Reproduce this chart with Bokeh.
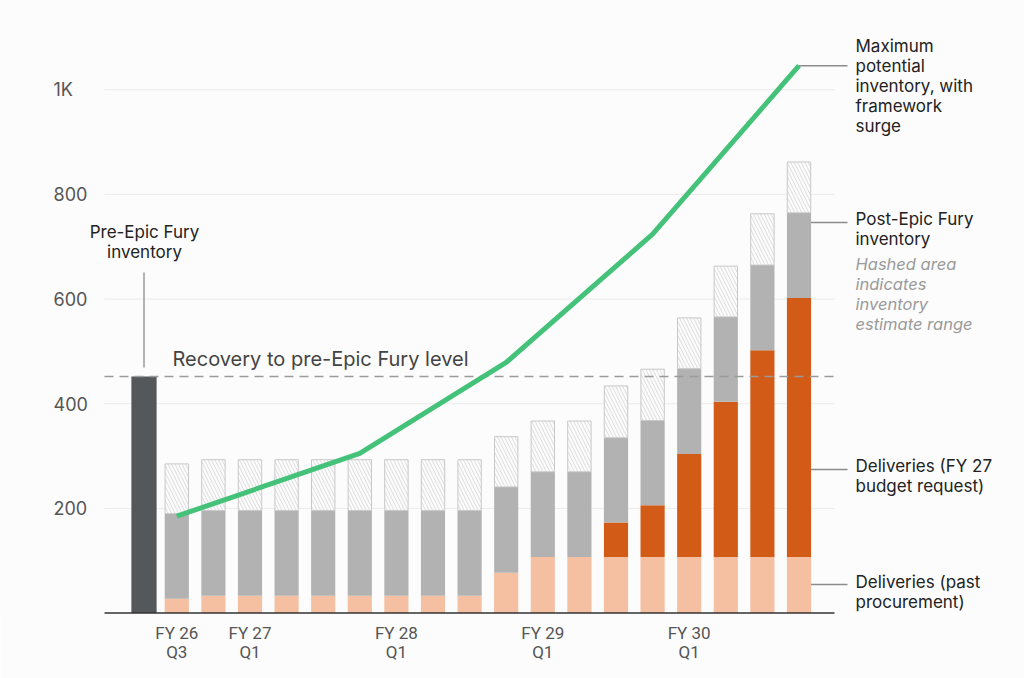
from bokeh.plotting import figure
from bokeh.models import ColumnDataSource, FixedTicker, Range1d
from bokeh.core.properties import value
from bokeh.embed import file_html
from bokeh.resources import INLINE

# ---------------- data ----------------
quarters = ["FY 26 Q3", "FY 26 Q4", "FY 27 Q1", "FY 27 Q2", "FY 27 Q3", "FY 27 Q4",
            "FY 28 Q1", "FY 28 Q2", "FY 28 Q3", "FY 28 Q4", "FY 29 Q1", "FY 29 Q2",
            "FY 29 Q3", "FY 29 Q4", "FY 30 Q1", "FY 30 Q2", "FY 30 Q3", "FY 30 Q4"]
past_procurement = [27, 33, 33, 33, 33, 33, 33, 33, 33, 77, 107, 107, 107, 107, 107, 107, 107, 107]
budget_request = [0, 0, 0, 0, 0, 0, 0, 0, 0, 0, 0, 0, 66, 99, 197, 297, 395, 495]
inventory_low = [190, 196, 196, 196, 196, 196, 196, 196, 196, 241, 270, 270, 335, 368, 467, 566, 665, 765]
inventory_high = [285, 293, 293, 293, 293, 293, 293, 293, 293, 337, 367, 367, 434, 466, 564, 663, 763, 862]
pre_epic_inventory = 452
max_potential_quarters = ["FY 26 Q3", "FY 27 Q4", "FY 28 Q4", "FY 29 Q4", "FY 30 Q4"]
max_potential = [185, 305, 479, 724, 1046]
tick_quarters = ["FY 26 Q3", "FY 27 Q1", "FY 28 Q1", "FY 29 Q1", "FY 30 Q1"]
y_ticks = [200, 400, 600, 800, 1000]
y_tick_labels = ["200", "400", "600", "800", "1K"]

# ---------------- layout helpers ----------------
W, H = 1024, 678
FL, FR, FT, FB = 0, 1024, 0, 615            # frame in pixels
PX1, DX = 176.3, 36.6                       # pixel centre of first quarter, spacing
PY0, SY = 612.5, 0.5232                     # pixel of zero, px per unit


def X(px):
    return 1 + (px - PX1) / DX


def Y(py):
    return (PY0 - py) / SY


idx = {q: i + 1 for i, q in enumerate(quarters)}
xs = [idx[q] for q in quarters]

BG = "#fcfcfc"
FONT = "Inter"

p = figure(width=W, height=H, output_backend="svg", toolbar_location=None,
           x_range=Range1d(X(FL), X(FR)), y_range=Range1d(Y(FB), Y(FT)))
p.min_border = 0
p.min_border_left = FL
p.min_border_right = W - FR
p.min_border_top = FT
p.min_border_bottom = H - FB
p.background_fill_color = BG
p.border_fill_color = BG
p.outline_line_color = None
p.grid.visible = False
p.yaxis.visible = False

x_plot_start = X(104)
x_plot_end = X(834)

# grid lines
p.segment(x0=[x_plot_start] * len(y_ticks), x1=[x_plot_end] * len(y_ticks), y0=y_ticks, y1=y_ticks,
          line_color="#ebebeb", line_width=1)

# y tick labels
p.text(x=[X(53)] * len(y_ticks), y=y_ticks, text=y_tick_labels, text_font=value(FONT),
       text_font_size="18px", text_color="#555555", text_align="left",
       text_baseline="middle")

# stacked bars
orange_top = [a + b for a, b in zip(past_procurement, budget_request)]
src = ColumnDataSource(dict(
    x=xs, past=past_procurement, orange_top=orange_top,
    low=inventory_low, high=inventory_high))
BW = 0.66
p.vbar(x="x", width=BW, bottom=0, top="past", source=src,
       fill_color="#f5bfa1", line_color=None)
p.vbar(x="x", width=BW, bottom="past", top="orange_top", source=src,
       fill_color="#d15b17", line_color=None)
p.vbar(x="x", width=BW, bottom="orange_top", top="low", source=src,
       fill_color="#b2b2b2", line_color=None)
p.vbar(x="x", width=BW - 0.02, bottom="low", top="high", source=src,
       fill_color=BG, line_color="#c8c8c8", line_width=1,
       hatch_pattern="left_diagonal_line", hatch_color="#d2d2d2",
       hatch_scale=7, hatch_weight=0.8)

# pre-Epic Fury bar
dark_x = X(143.5)
p.vbar(x=[dark_x], width=0.69, bottom=0, top=[pre_epic_inventory],
       fill_color="#55585b", line_color=None)

# recovery dashed line
p.segment(x0=[x_plot_start], x1=[x_plot_end], y0=[pre_epic_inventory], y1=[pre_epic_inventory],
          line_color="#9a9a9a", line_width=1.5, line_dash="9 6")

# baseline
p.segment(x0=[x_plot_start], x1=[x_plot_end], y0=[0], y1=[0], line_color="#333333", line_width=1.5)

# max potential line
p.line(x=[idx[q] for q in max_potential_quarters], y=max_potential,
       line_color="#44c27a", line_width=5)

# leader lines
lead_x1 = X(847)
bar_right = idx[quarters[-1]] + BW / 2
p.segment(x0=[idx[max_potential_quarters[-1]], bar_right, bar_right, bar_right],
          x1=[lead_x1] * 4,
          y0=[max_potential[-1], Y(222), Y(469), Y(584)],
          y1=[max_potential[-1], Y(222), Y(469), Y(584)],
          line_color="#8c8c8c", line_width=1.5)
p.segment(x0=[dark_x], x1=[dark_x], y0=[Y(367)], y1=[Y(272)],
          line_color="#9a9a9a", line_width=1.5)


def txt(lines, px, py0, size="17px", color="#222222", align="left", style="normal", step=20):
    p.text(x=[X(px)] * len(lines), y=[Y(py0 + k * step) for k in range(len(lines))],
           text=lines, text_font=value(FONT), text_font_size=size,
           text_color=color, text_align=align, text_baseline="middle",
           text_font_style=style)


txt(["Maximum", "potential", "inventory, with", "framework", "surge"], 855, 45)
txt(["Post-Epic Fury", "inventory"], 855, 218)
txt(["Hashed area", "indicates", "inventory", "estimate range"], 855, 263,
    size="16.5px", color="#9a9a9a", style="italic")
txt(["Deliveries (FY 27", "budget request)"], 855, 465)
txt(["Deliveries (past", "procurement)"], 855, 581)
txt(["Pre-Epic Fury", "inventory"], 144, 231, align="center")
txt(["Recovery to pre-Epic Fury level"], 172, 358, size="20px", color="#444444")

# x axis (labels only)
tick_pos = [idx[q] for q in tick_quarters]
p.xaxis.ticker = FixedTicker(ticks=tick_pos)
p.xaxis.major_label_overrides = {t: q[:5] + "\n" + q[6:] for t, q in zip(tick_pos, tick_quarters)}
p.xaxis.axis_line_color = None
p.xaxis.major_tick_line_color = None
p.xaxis.minor_tick_line_color = None
p.xaxis.major_label_standoff = 1
p.xaxis.major_label_text_font = "Roboto"
p.xaxis.major_label_text_font_size = "17px"
p.xaxis.major_label_text_color = "#555555"
p.xaxis.major_label_text_line_height = 0.95

open("out.html", "w").write(file_html(p, INLINE))
